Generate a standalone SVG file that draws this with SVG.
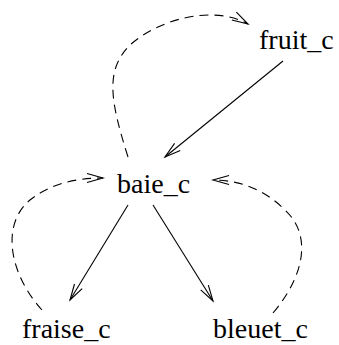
<svg xmlns="http://www.w3.org/2000/svg" width="339" height="345" viewBox="0 0 339 345">
  <style>
    .edge { fill: none; stroke: #000; stroke-width: 1.1; }
    .dashed { stroke-dasharray: 9 6; }
    .label { font-family: "Times New Roman", "Liberation Serif", Times, serif; font-size: 28px; fill: #000; }
  </style>
  <defs>
    <marker id="vee" markerUnits="userSpaceOnUse" markerWidth="24" markerHeight="14" viewBox="-20 -7 24 14" refX="0" refY="0" orient="auto" overflow="visible">
      <path d="M-16,-4.5 L0,0 L-16,4.5" fill="none" stroke="#000" stroke-width="1.1" stroke-dasharray="none"/>
    </marker>
  </defs>

  <g id="edges">
    <!-- subclass links -->
    <path class="edge" d="M283,61 L165,157" marker-end="url(#vee)"/>
    <path class="edge" d="M128,205 L70,300" marker-end="url(#vee)"/>
    <path class="edge" d="M153,205 L213,301" marker-end="url(#vee)"/>
    <!-- dashed back links -->
    <path class="edge dashed" d="M128,157 C110,100 105,70 130,45 C160,18 215,5 248,24" marker-end="url(#vee)"/>
    <path class="edge dashed" d="M42,310 C10,275 0,225 30,200 C50,184 75,178 103,178" marker-end="url(#vee)"/>
    <path class="edge dashed" d="M273,313 C305,275 312,235 285,210 C265,190 240,180 213,180" marker-end="url(#vee)"/>
  </g>

  <g id="fruit_c"><text class="label" x="259" y="49">fruit_c</text></g>
  <g id="baie_c"><text class="label" x="117" y="193">baie_c</text></g>
  <g id="fraise_c"><text class="label" x="22" y="338">fraise_c</text></g>
  <g id="bleuet_c"><text class="label" x="213" y="338">bleuet_c</text></g>
</svg>
